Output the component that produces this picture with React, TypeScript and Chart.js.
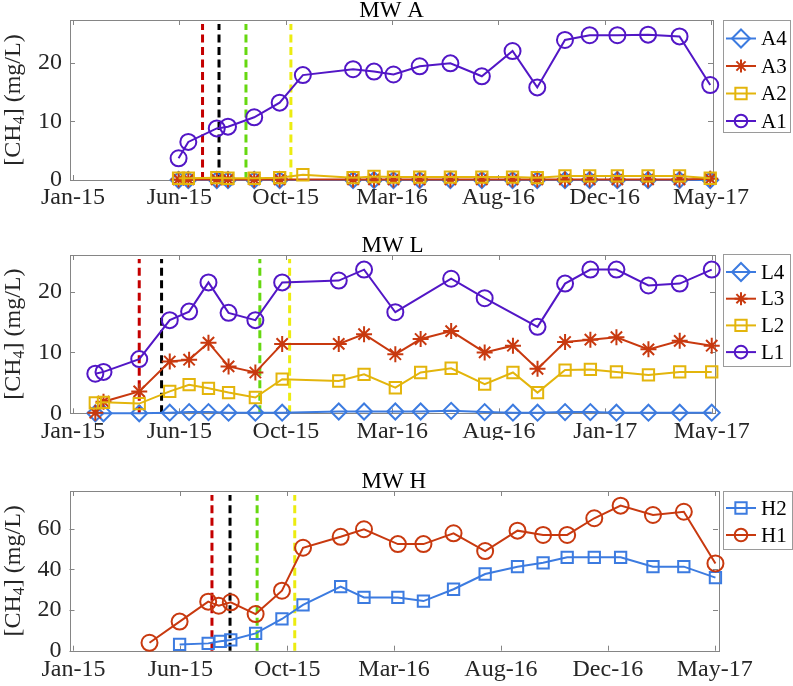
import React, { useEffect, useRef } from 'react';
import { Chart, registerables } from 'chart.js';

Chart.register(...registerables);

// ---------------- DATA (x = days since 1 Jan 2015) ----------------
// MW A
const A_DAYS = [156, 169, 207, 222, 257, 291, 322, 389, 417, 443, 478, 519, 561, 602, 635, 672, 705, 742, 783, 825, 866];
const A1 = [3.7, 6.5, 8.8, 9.1, 10.7, 13.2, 17.9, 18.9, 18.5, 18.0, 19.4, 19.9, 17.7, 22.0, 15.8, 23.9, 24.7, 24.7, 24.8, 24.5, 16.2];
const A2 = [0.3, 0.3, 0.4, 0.3, 0.3, 0.4, 0.9, 0.4, 0.6, 0.5, 0.5, 0.5, 0.5, 0.5, 0.4, 0.7, 0.7, 0.7, 0.7, 0.7, 0.3];
const A3 = [0.1, 0.1, 0.1, 0.1, 0.1, 0.1, null, 0.1, 0.1, 0.1, 0.1, 0.1, 0.1, 0.1, 0.1, 0.1, 0.1, 0.1, 0.1, 0.1, 0.2];
const A4 = [0, 0, 0, 0, 0, 0, null, 0, 0, 0, 0, 0, 0, 0, 0, 0, 0, 0, 0, 0, 0];
const A_EVENTS = [188, 210, 246, 306];
const A_XTICKS = [15, 157, 299, 441, 583, 725, 867];
const A_XLABELS = ['Jan-15', 'Jun-15', 'Oct-15', 'Mar-16', 'Aug-16', 'Dec-16', 'May-17'];
const A_YTICKS = [0, 10, 20];

// MW L
const L_DAYS = [47, 58, 106, 147, 173, 199, 226, 262, 298, 374, 408, 450, 484, 525, 570, 608, 641, 678, 712, 747, 790, 832, 875];
const L1 = [6.5, 6.8, 8.9, 15.3, 16.7, 21.5, 16.5, 15.3, 21.5, 21.8, 23.6, 16.6, null, 22.1, 18.9, null, 14.2, 21.3, 23.6, 23.6, 21.0, 21.3, 23.6];
const L2 = [1.7, 1.8, 1.6, 3.6, 4.7, 4.1, 3.4, 2.6, 5.6, 5.3, 6.4, 4.2, 6.7, 7.4, 4.8, 6.7, 3.4, 7.1, 7.2, 6.8, 6.3, 6.8, 6.8];
const L3 = [0.1, 1.9, 3.6, 8.5, 8.8, 11.6, 7.7, 6.7, 11.4, 11.4, 13.0, 9.7, 12.2, 13.5, 10.0, 11.1, 7.3, 11.7, 12.1, 12.5, 10.5, 11.9, 11.1];
const L4 = [0, 0, 0, 0.1, 0.2, 0.2, 0.1, 0.1, 0.1, 0.3, 0.3, 0.3, 0.3, 0.4, 0.2, 0.1, 0.1, 0.2, 0.2, 0.1, 0.1, 0.1, 0.1];
const L_EVENTS = [106, 136, 268, 308];
const L_XTICKS = [17, 160, 303, 446, 589, 732, 875];
const L_XLABELS = ['Jan-15', 'Jun-15', 'Oct-15', 'Mar-16', 'Aug-16', 'Jan-17', 'May-17'];
const L_YTICKS = [0, 10, 20];

// MW H
const H1_DAYS = [116, 156, 194, 208, 224, 257, 292, 320, 370, 401, 446, 480, 520, 562, 605, 639, 671, 707, 742, 785, 826, 868];
const H1 = [3.9, 14.3, 24.1, 22.1, 23.8, 18.0, 29.5, 50.6, 56.0, 59.7, 52.4, 52.4, 57.7, 49.0, 59.0, 56.9, 56.9, 65.1, 71.3, 66.7, 68.3, 42.9];
const H2_DAYS = [156, 194, 210, 224, 257, 292, 320, 370, 401, 446, 480, 520, 562, 605, 639, 671, 707, 742, 785, 826, 868];
const H2 = [3.1, 3.6, 4.6, 5.3, 8.5, 15.6, 22.5, 31.5, 26.2, 26.2, 24.4, 30.2, 37.7, 41.3, 43.2, 45.9, 45.9, 45.9, 41.3, 41.3, 35.9];
const H_EVENTS = [199, 223, 259, 309];
const H_XTICKS = [15, 157, 299, 441, 583, 725, 867];
const H_XLABELS = ['Jan-15', 'Jun-15', 'Oct-15', 'Mar-16', 'Aug-16', 'Dec-16', 'May-17'];
const H_YTICKS = [0, 20, 40, 60];

// ---------------- STYLE ----------------
const FONT = "'Liberation Serif', 'Times New Roman', Times, serif";
const BLUE = '#3C7BE0';
const RED = '#C8390F';
const YELLOW = '#E3B50C';
const PURPLE = '#5216C6';
const EVENT_COLORS = ['#C40000', '#000000', '#66D810', '#ECEC10'];
const TICK_COLOR = '#262626';
const BOX_COLOR = '#858585';

type Series = { label: string; days: number[]; values: (number | null)[]; color: string; style: string };

interface PanelCfg {
  title: string;
  offset: number;
  height: number;
  area: { left: number; right: number; top: number; bottom: number };
  xMin: number;
  xMax: number;
  xTicks: number[];
  xLabels: string[];
  xPad: number;
  yMax: number;
  yTicks: number[];
  events: number[];
  series: Series[]; // draw order: first = on top
  legend: { left: number; top: number; width: number; height: number; first: number; step: number; order: number[] };
}

const PANELS: PanelCfg[] = [
  {
    title: 'MW A', offset: 0, height: 220,
    area: { left: 70, right: 713, top: 20, bottom: 180 },
    xMin: 11, xMax: 869.7, xTicks: A_XTICKS, xLabels: A_XLABELS, xPad: 3,
    yMax: 27.3, yTicks: A_YTICKS, events: A_EVENTS,
    series: [
      { label: 'A1', days: A_DAYS, values: A1, color: PURPLE, style: 'circle' },
      { label: 'A2', days: A_DAYS, values: A2, color: YELLOW, style: 'rect' },
      { label: 'A3', days: A_DAYS, values: A3, color: RED, style: 'star' },
      { label: 'A4', days: A_DAYS, values: A4, color: BLUE, style: 'rectRot' },
    ],
    legend: { left: 723, top: 20, width: 67, height: 112, first: 18.5, step: 27.5, order: [3, 2, 1, 0] },
  },
  {
    title: 'MW L', offset: 220, height: 220,
    area: { left: 70, right: 715, top: 35, bottom: 193.3 },
    xMin: 13, xMax: 879.4, xTicks: L_XTICKS, xLabels: L_XLABELS, xPad: 4,
    yMax: 26, yTicks: L_YTICKS, events: L_EVENTS,
    series: [
      { label: 'L1', days: L_DAYS, values: L1, color: PURPLE, style: 'circle' },
      { label: 'L2', days: L_DAYS, values: L2, color: YELLOW, style: 'rect' },
      { label: 'L3', days: L_DAYS, values: L3, color: RED, style: 'star' },
      { label: 'L4', days: L_DAYS, values: L4, color: BLUE, style: 'rectRot' },
    ],
    legend: { left: 723, top: 34, width: 67, height: 112, first: 18, step: 26.7, order: [3, 2, 1, 0] },
  },
  {
    title: 'MW H', offset: 440, height: 246,
    area: { left: 69.5, right: 718, top: 51, bottom: 210.7 },
    xMin: 9.7, xMax: 871.4, xTicks: H_XTICKS, xLabels: H_XLABELS, xPad: 5,
    yMax: 78.5, yTicks: H_YTICKS, events: H_EVENTS,
    series: [
      { label: 'H1', days: H1_DAYS, values: H1, color: RED, style: 'circle' },
      { label: 'H2', days: H2_DAYS, values: H2, color: BLUE, style: 'rect' },
    ],
    legend: { left: 723, top: 51, width: 69, height: 58, first: 17, step: 27, order: [1, 0] },
  },
];

function drawMarker(ctx: CanvasRenderingContext2D, style: string, x: number, y: number, r: number) {
  ctx.beginPath();
  if (style === 'circle') {
    ctx.arc(x, y, r, 0, Math.PI * 2);
  } else if (style === 'rect') {
    const s = r * Math.SQRT1_2;
    ctx.rect(x - s, y - s, 2 * s, 2 * s);
  } else if (style === 'rectRot') {
    ctx.moveTo(x, y - r);
    ctx.lineTo(x + r, y);
    ctx.lineTo(x, y + r);
    ctx.lineTo(x - r, y);
    ctx.closePath();
  } else if (style === 'star') {
    for (let k = 0; k < 4; k++) {
      const a = (k * Math.PI) / 4;
      ctx.moveTo(x + Math.cos(a) * r, y + Math.sin(a) * r);
      ctx.lineTo(x - Math.cos(a) * r, y - Math.sin(a) * r);
    }
  }
  ctx.stroke();
}

function makeConfig(cfg: PanelCfg): any {
  const decor = {
    id: 'decor' + cfg.title.replace(/\s/g, ''),
    beforeDatasetsDraw(chart: any) {
      const ctx: CanvasRenderingContext2D = chart.ctx;
      const { left, right, top, bottom } = chart.chartArea;
      const xs = chart.scales.x;
      const ys = chart.scales.y;
      // event lines
      ctx.save();
      ctx.lineWidth = 3;
      ctx.setLineDash([8, 4.5]);
      cfg.events.forEach((d, i) => {
        const px = xs.getPixelForValue(d);
        ctx.strokeStyle = EVENT_COLORS[i];
        ctx.beginPath();
        ctx.moveTo(px, bottom);
        ctx.lineTo(px, top + 4);
        ctx.stroke();
      });
      ctx.restore();
      // box and inward ticks
      ctx.save();
      ctx.strokeStyle = BOX_COLOR;
      ctx.lineWidth = 1;
      ctx.strokeRect(Math.round(left) + 0.5, Math.round(top) + 0.5, Math.round(right - left), Math.round(bottom - top));
      ctx.beginPath();
      cfg.xTicks.forEach((v) => {
        const px = Math.round(xs.getPixelForValue(v)) + 0.5;
        ctx.moveTo(px, bottom);
        ctx.lineTo(px, bottom - 5);
        ctx.moveTo(px, top);
        ctx.lineTo(px, top + 5);
      });
      cfg.yTicks.forEach((v) => {
        const py = Math.round(ys.getPixelForValue(v)) + 0.5;
        ctx.moveTo(left, py);
        ctx.lineTo(left + 5, py);
        ctx.moveTo(right, py);
        ctx.lineTo(right - 5, py);
      });
      ctx.stroke();
      ctx.restore();
    },
    afterDatasetsDraw(chart: any) {
      const ctx: CanvasRenderingContext2D = chart.ctx;
      const { left, right, top, bottom } = chart.chartArea;
      ctx.save();
      // title
      ctx.fillStyle = '#000';
      ctx.font = `23px ${FONT}`;
      ctx.textAlign = 'center';
      ctx.textBaseline = 'alphabetic';
      ctx.fillText(cfg.title, (left + right) / 2, top - 3.5);
      // y-axis label with subscript
      const big = `24px ${FONT}`;
      const small = `16px ${FONT}`;
      const p1 = '[CH';
      const p2 = '4';
      const p3 = '] (mg/L)';
      ctx.font = big;
      const w1 = ctx.measureText(p1).width;
      const w3 = ctx.measureText(p3).width;
      ctx.font = small;
      const w2 = ctx.measureText(p2).width;
      const total = w1 + w2 + w3;
      ctx.translate(14, (top + bottom) / 2);
      ctx.rotate(-Math.PI / 2);
      ctx.textAlign = 'left';
      ctx.textBaseline = 'middle';
      ctx.fillStyle = TICK_COLOR;
      let cx = -total / 2;
      ctx.font = big;
      ctx.fillText(p1, cx, 0);
      cx += w1;
      ctx.font = small;
      ctx.fillText(p2, cx, 6);
      cx += w2;
      ctx.font = big;
      ctx.fillText(p3, cx, 0);
      ctx.restore();

      // legend
      const lg = cfg.legend;
      ctx.save();
      ctx.fillStyle = '#ffffff';
      ctx.fillRect(lg.left, lg.top, lg.width, lg.height);
      ctx.strokeStyle = '#9a9a9a';
      ctx.lineWidth = 1;
      ctx.strokeRect(lg.left + 0.5, lg.top + 0.5, lg.width, lg.height);
      lg.order.forEach((si, k) => {
        const s = cfg.series[si];
        const y = lg.top + lg.first + k * lg.step;
        ctx.strokeStyle = s.color;
        ctx.lineWidth = 2;
        ctx.beginPath();
        ctx.moveTo(lg.left + 3, y);
        ctx.lineTo(lg.left + 33, y);
        ctx.stroke();
        const r = s.style === 'rectRot' ? 9 : s.style === 'rect' ? 8 : s.style === 'star' ? 6.5 : 6.3;
        drawMarker(ctx, s.style, lg.left + 18, y, r);
        ctx.fillStyle = '#000';
        ctx.font = `21px ${FONT}`;
        ctx.textAlign = 'left';
        ctx.textBaseline = 'middle';
        ctx.fillText(s.label, lg.left + 38, y + 1);
      });
      ctx.restore();
    },
  };

  const datasets = cfg.series.map((s) => ({
    label: s.label,
    data: s.days
      .map((d, i) => ({ x: d, y: s.values[i] }))
      .filter((p) => p.y !== null && p.y !== undefined),
    borderColor: s.color,
    backgroundColor: 'rgba(0,0,0,0)',
    pointBackgroundColor: 'rgba(0,0,0,0)',
    pointBorderColor: s.color,
    pointStyle: s.style,
    pointRadius: 8,
    pointBorderWidth: 2,
    borderWidth: 2,
    tension: 0,
    fill: false,
    clip: false,
  }));

  return {
    type: 'line',
    data: { datasets },
    options: {
      responsive: false,
      animation: false,
      events: [],
      layout: {
        autoPadding: false,
        padding: { left: 0, top: cfg.area.top, right: 793 - cfg.area.right, bottom: 0 },
      },
      plugins: { legend: { display: false }, title: { display: false }, tooltip: { enabled: false } },
      scales: {
        x: {
          type: 'linear',
          min: cfg.xMin,
          max: cfg.xMax,
          grid: { display: false, drawTicks: false },
          border: { display: false },
          afterBuildTicks: (sc: any) => {
            sc.ticks = cfg.xTicks.map((v) => ({ value: v }));
          },
          afterFit: (sc: any) => {
            sc.height = cfg.height - cfg.area.bottom;
            sc.paddingLeft = 0;
            sc.paddingRight = 0;
          },
          ticks: {
            autoSkip: false,
            maxRotation: 0,
            minRotation: 0,
            padding: cfg.xPad,
            color: TICK_COLOR,
            font: { family: FONT, size: 24 },
            callback: (_v: any, i: number) => cfg.xLabels[i],
          },
        },
        y: {
          type: 'linear',
          min: 0,
          max: cfg.yMax,
          grid: { display: false, drawTicks: false },
          border: { display: false },
          afterBuildTicks: (sc: any) => {
            sc.ticks = cfg.yTicks.map((v) => ({ value: v }));
          },
          afterFit: (sc: any) => {
            sc.width = cfg.area.left;
            sc.paddingTop = 0;
            sc.paddingBottom = 0;
          },
          ticks: {
            padding: 8,
            color: TICK_COLOR,
            font: { family: FONT, size: 24 },
            callback: (v: any) => String(v),
          },
        },
      },
    },
    plugins: [decor],
  };
}

function Panel({ cfg }: { cfg: PanelCfg }) {
  const ref = useRef<HTMLCanvasElement>(null);
  useEffect(() => {
    if (!ref.current) return;
    const chart = new Chart(ref.current, makeConfig(cfg));
    return () => chart.destroy();
  }, [cfg]);
  return (
    <canvas
      ref={ref}
      width={793}
      height={cfg.height}
      style={{ position: 'absolute', left: 0, top: cfg.offset, width: 793, height: cfg.height }}
    />
  );
}

export default function App() {
  return (
    <div style={{ position: 'absolute', left: 0, top: 0, width: 793, height: 686, background: '#ffffff', overflow: 'hidden' }}>
      {PANELS.map((p) => (
        <Panel key={p.title} cfg={p} />
      ))}
    </div>
  );
}
